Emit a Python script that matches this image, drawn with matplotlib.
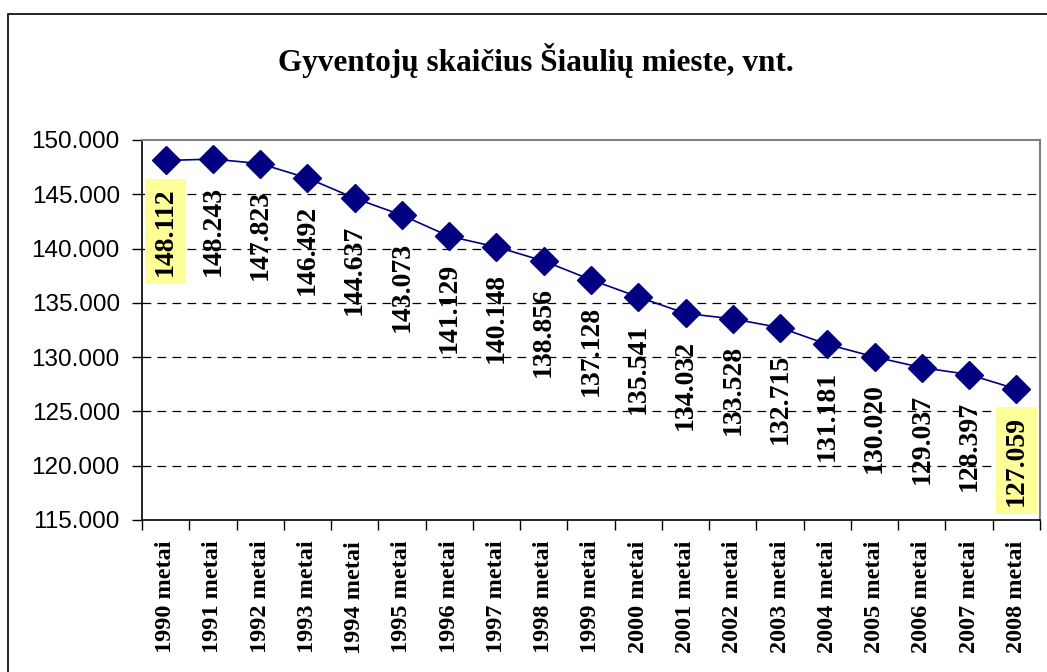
import matplotlib
matplotlib.use("Agg")
import matplotlib.pyplot as plt
from matplotlib.patches import Rectangle

# Data
years = ['1990 metai', '1991 metai', '1992 metai', '1993 metai', '1994 metai',
         '1995 metai', '1996 metai', '1997 metai', '1998 metai', '1999 metai',
         '2000 metai', '2001 metai', '2002 metai', '2003 metai', '2004 metai',
         '2005 metai', '2006 metai', '2007 metai', '2008 metai']
population = [148112, 148243, 147823, 146492, 144637, 143073, 141129, 140148,
              138856, 137128, 135541, 134032, 133528, 132715, 131181, 130020,
              129037, 128397, 127059]
y_ticks = [115000, 120000, 125000, 130000, 135000, 140000, 145000, 150000]
highlighted = [0, 18]

W, H = 1047, 672
fig = plt.figure(figsize=(W / 100, H / 100), dpi=100)

# outer chart border (cut off on the right and bottom)
fig.patches.append(Rectangle((8 / W, -0.1), 1.2, 1.1 - 14 / H,
                             transform=fig.transFigure, fill=False,
                             edgecolor='black', linewidth=1.2))

ax = fig.add_axes([142 / W, (H - 520) / H, 898 / W, 380 / H])

x = list(range(len(years)))
ax.plot(x, population, color='#000080', linewidth=1.2, marker='D',
        markersize=14, markeredgewidth=1,
        markerfacecolor='#000080', markeredgecolor='#000080')

for i, v in enumerate(population):
    txt = f"{v:,}".replace(',', '.')
    box = None
    if i in highlighted:
        box = dict(boxstyle='square,pad=0.3', facecolor='#FFFF99', edgecolor='none')
    ax.annotate(txt, (i, v), xytext=(0, -19), textcoords='offset points',
                rotation=90, ha='center', va='top', fontsize=20,
                fontweight='bold', family='Liberation Serif', bbox=box)

ax.set_xlim(-0.5, len(years) - 0.5)
ax.set_ylim(115000, 150000)

ax.set_yticks(y_ticks)
ax.set_yticklabels([f"{t:,}".replace(',', '.') for t in y_ticks],
                   family='Liberation Sans', fontsize=17.5)
ax.tick_params(axis='y', length=7, width=1, pad=9)

ax.set_xticks([i - 0.5 for i in range(len(years) + 1)])
ax.set_xticklabels([])
ax.tick_params(axis='x', which='major', length=7, width=1)
ax.set_xticks(x, minor=True)
ax.set_xticklabels(years, minor=True, rotation=90, fontsize=17.5,
                   fontweight='bold', family='Liberation Serif')
ax.tick_params(axis='x', which='minor', length=0, pad=15)

for t in y_ticks[1:-1]:
    ax.axhline(t, color='black', linewidth=0.9, linestyle=(0, (7, 5)), zorder=0)

for s in ['top', 'right']:
    ax.spines[s].set_color('#808080')
    ax.spines[s].set_linewidth(1.5)
for s in ['left', 'bottom']:
    ax.spines[s].set_color('black')
    ax.spines[s].set_linewidth(1.2)

fig.text(536 / W, 1 - 61 / H, 'Gyventojų skaičius Šiaulių mieste, vnt.',
         ha='center', va='center', fontsize=22.5, fontweight='bold',
         family='Liberation Serif')

fig.savefig('out.png', dpi=100)
